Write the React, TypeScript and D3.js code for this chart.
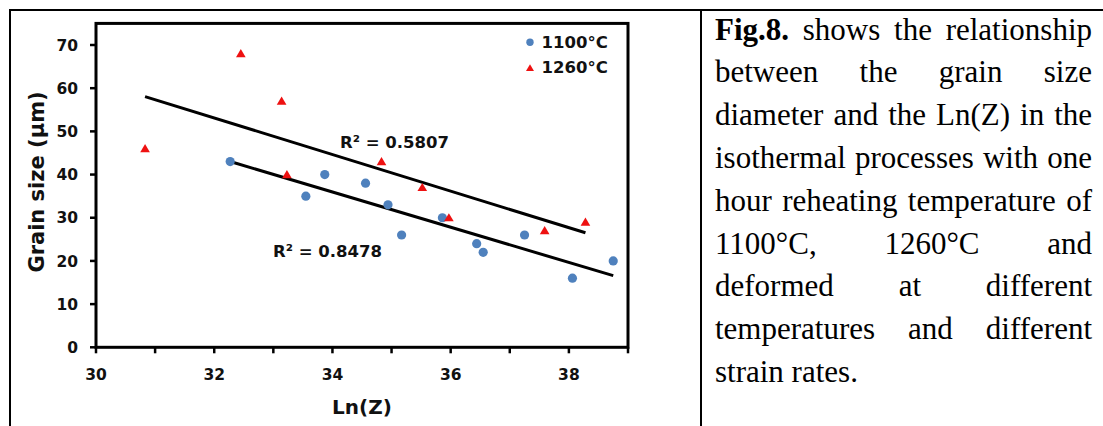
import React, { useMemo } from "react";
import * as d3 from "d3";

// ---- data ----
const LNZ_1100 = [32.27, 33.55, 33.87, 34.56, 34.94, 35.17, 35.86, 36.44, 36.55, 37.25, 38.06, 38.75];
const GRAIN_1100 = [43, 35, 40, 38, 33, 26, 30, 24, 22, 26, 16, 20];
const LNZ_1260 = [30.83, 32.45, 33.14, 33.23, 34.83, 35.52, 35.97, 37.59, 38.28];
const GRAIN_1260 = [46, 68, 57, 40, 43, 37, 30, 27, 29];
const SERIES_NAMES = ["1100°C", "1260°C"];
const R2_LABELS = ["R² = 0.8478", "R² = 0.5807"];
const X_TICKS = [30, 31, 32, 33, 34, 35, 36, 37, 38, 39];
const X_LABELS = [30, 32, 34, 36, 38];
const Y_TICKS = [0, 10, 20, 30, 40, 50, 60, 70];
const X_TITLE = "Ln(Z)";
const Y_TITLE = "Grain size (µm)";
const PARA_LINES = [
  "Fig.8. shows the relationship",
  "between the grain size",
  "diameter and the Ln(Z) in the",
  "isothermal processes with one",
  "hour reheating temperature of",
  "1100°C, 1260°C and",
  "deformed at different",
  "temperatures and different",
  "strain rates.",
];
const BOLD_LEAD = "Fig.8.";

const W = 1103;
const H = 426;
const CHART_FONT = "'DejaVu Sans', sans-serif";
const SERIF = "'Liberation Serif', 'Times New Roman', serif";

function fit(xs: number[], ys: number[]) {
  const mx = d3.mean(xs)!;
  const my = d3.mean(ys)!;
  const sxy = d3.sum(xs, (x, i) => (x - mx) * (ys[i] - my));
  const sxx = d3.sum(xs, (x) => (x - mx) * (x - mx));
  const b = sxy / sxx;
  const a = my - b * mx;
  const x0 = d3.min(xs)!;
  const x1 = d3.max(xs)!;
  return [
    [x0, a + b * x0],
    [x1, a + b * x1],
  ] as [number, number][];
}

function Paragraph() {
  const fontSize = 31;
  const left = 715;
  const right = 1092;
  const base0 = 39.5;
  const lh = 42.8;
  const layout = useMemo(() => {
    const canvas = document.createElement("canvas");
    const ctx = canvas.getContext("2d")!;
    const measure = (t: string, bold: boolean) => {
      ctx.font = `${bold ? "bold " : ""}${fontSize}px "Liberation Serif"`;
      return ctx.measureText(t).width;
    };
    const spaceW = measure(" ", false);
    return PARA_LINES.map((line, li) => {
      const words = line.split(" ");
      const ws = words.map((w, wi) => {
        const bold = li === 0 && wi === 0 && w === BOLD_LEAD;
        return { w, bold, width: measure(w, bold) };
      });
      const total = d3.sum(ws, (d) => d.width);
      const last = li === PARA_LINES.length - 1;
      const gap = last || ws.length < 2 ? spaceW : (right - left - total) / (ws.length - 1);
      let x = left;
      return ws.map((d) => {
        const out = { ...d, x };
        x += d.width + gap;
        return out;
      });
    });
  }, []);
  return (
    <g fontFamily={SERIF} fontSize={fontSize} fill="#000">
      {layout.map((words, li) =>
        words.map((d, wi) => (
          <text key={`${li}-${wi}`} x={d.x} y={base0 + li * lh} fontWeight={d.bold ? "bold" : "normal"}>
            {d.w}
          </text>
        ))
      )}
    </g>
  );
}

export default function App() {
  const x = d3.scaleLinear().domain([30, 39]).range([96, 628]);
  const y = d3.scaleLinear().domain([0, 70]).range([347.3, 45]);
  const line = d3
    .line<[number, number]>()
    .x((d) => x(d[0]))
    .y((d) => y(d[1]));
  const fit1100 = fit(LNZ_1100, GRAIN_1100);
  const fit1260 = fit(LNZ_1260, GRAIN_1260);
  const tri = (cx: number, cy: number, s: number) =>
    `M${cx},${cy - s}L${cx + s * 1.05},${cy + s * 0.78}L${cx - s * 1.05},${cy + s * 0.78}Z`;
  const top = y(75);
  const blue = "#4F81BD";
  const red = "#EE1111";

  return (
    <svg
      width={W}
      height={H}
      style={{ position: "absolute", left: 0, top: 0, display: "block", background: "#fff" }}
    >
      <rect x={0} y={0} width={W} height={H} fill="#fff" />
      {/* table borders */}
      <g stroke="#000" strokeWidth={2}>
        <line x1={9} y1={10} x2={W} y2={10} />
        <line x1={10} y1={9} x2={10} y2={H} />
        <line x1={701} y1={9} x2={701} y2={H} />
      </g>

      {/* plot frame */}
      <rect x={x(30)} y={top} width={x(39) - x(30)} height={y(0) - top} fill="none" stroke="#000" strokeWidth={3} />

      {/* ticks */}
      <g stroke="#000" strokeWidth={2.5}>
        {X_TICKS.map((t) => (
          <line key={t} x1={x(t)} x2={x(t)} y1={y(0)} y2={y(0) + 6} />
        ))}
        {Y_TICKS.map((t) => (
          <line key={t} x1={x(30) - 6} x2={x(30)} y1={y(t)} y2={y(t)} />
        ))}
      </g>
      <g fontFamily={CHART_FONT} fontWeight="bold" fontSize={15.5} fill="#111">
        {X_LABELS.map((t) => (
          <text key={t} x={x(t)} y={380} textAnchor="middle">
            {t}
          </text>
        ))}
        {Y_TICKS.map((t) => (
          <text key={t} x={78} y={y(t)} dy="0.36em" textAnchor="end">
            {t}
          </text>
        ))}
      </g>
      <text x={362} y={414} textAnchor="middle" fontFamily={CHART_FONT} fontWeight="bold" fontSize={20} fill="#111">
        {X_TITLE}
      </text>
      <text
        transform={`translate(44,182) rotate(-90)`}
        textAnchor="middle"
        fontFamily={CHART_FONT}
        fontWeight="bold"
        fontSize={21}
        fill="#111"
      >
        {Y_TITLE}
      </text>

      {/* trend lines */}
      <path d={line(fit1100)!} fill="none" stroke="#000" strokeWidth={3} />
      <path d={line(fit1260)!} fill="none" stroke="#000" strokeWidth={3} />

      {/* points */}
      {LNZ_1100.map((v, i) => (
        <circle key={`b${i}`} cx={x(v)} cy={y(GRAIN_1100[i])} r={4.6} fill={blue} />
      ))}
      {LNZ_1260.map((v, i) => (
        <path key={`r${i}`} d={tri(x(v), y(GRAIN_1260[i]), 4.6)} fill={red} />
      ))}

      {/* R² labels */}
      <g fontFamily={CHART_FONT} fontWeight="bold" fontSize={16.5} fill="#111">
        <text x={273} y={257.3}>{R2_LABELS[0]}</text>
        <text x={340} y={147.7}>{R2_LABELS[1]}</text>
      </g>

      {/* legend */}
      <circle cx={530} cy={42.3} r={3.7} fill={blue} />
      <path d={tri(530, 68, 3.8)} fill={red} />
      <g fontFamily={CHART_FONT} fontWeight="bold" fontSize={16.5} fill="#111">
        <text x={541.5} y={48.3}>{SERIES_NAMES[0]}</text>
        <text x={541.5} y={73.3}>{SERIES_NAMES[1]}</text>
      </g>

      <Paragraph />
    </svg>
  );
}
